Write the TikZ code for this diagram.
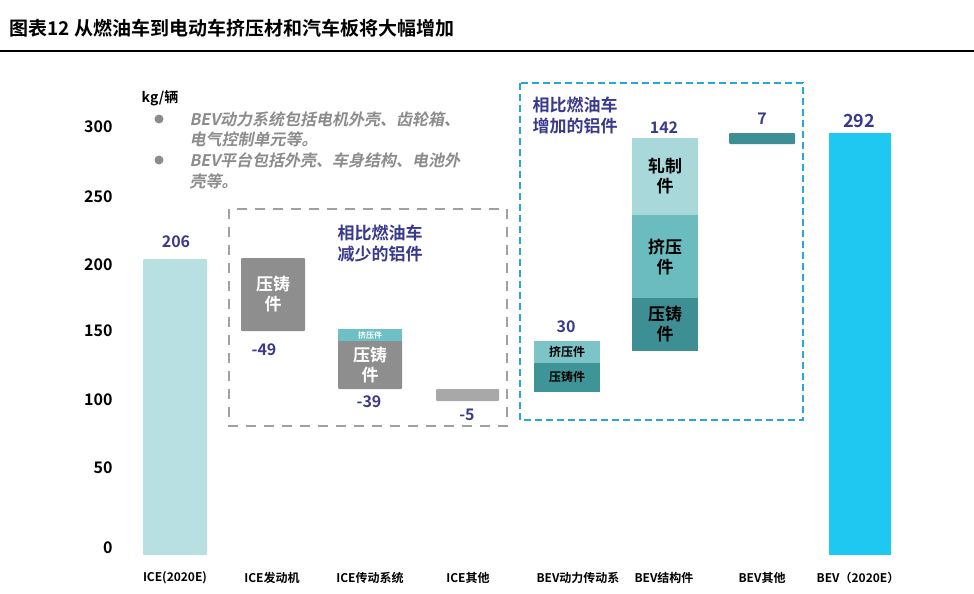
\documentclass[tikz,border=0pt]{standalone}
\usepackage{fontspec}
\setmainfont{Noto Sans CJK SC}[BoldFont={Noto Sans CJK SC Bold}]
\newfontfamily\slfont{Noto Sans CJK SC}[FakeSlant=0.2,BoldFont={Noto Sans CJK SC Bold},BoldFeatures={FakeSlant=0.2}]
\definecolor{dblue}{HTML}{3A3A8C}
\definecolor{gtxt}{HTML}{8C8C8C}
\definecolor{iceb}{RGB}{184,224,226}
\definecolor{gbar}{RGB}{142,142,142}
\definecolor{gbar2}{RGB}{168,168,168}
\definecolor{tstrip}{RGB}{108,192,198}
\definecolor{tA}{RGB}{124,196,200}
\definecolor{tB}{RGB}{63,148,151}
\definecolor{tC}{RGB}{168,216,218}
\definecolor{tD}{RGB}{107,188,191}
\definecolor{tE}{RGB}{62,143,147}
\definecolor{bevb}{RGB}{30,200,240}
\definecolor{dbox}{RGB}{41,168,216}
\definecolor{gbox}{RGB}{160,160,160}
\begin{document}
\begin{tikzpicture}[x=1pt,y=-1pt,
  bar/.style={draw=none,rounded corners=1pt},
  num/.style={font=\bfseries\fontsize{16}{16}\selectfont,text=dblue},
  ax/.style={font=\bfseries\fontsize{16}{16}\selectfont,anchor=east},
  cat/.style={font=\bfseries\fontsize{12}{12}\selectfont},
  wl/.style={font=\bfseries\fontsize{17}{20}\selectfont,text=white,align=center},
  bl/.style={font=\bfseries\fontsize{17}{20}\selectfont,text=black,align=center},
  note/.style={font=\slfont\bfseries\fontsize{16}{17}\selectfont,text=gtxt,anchor=west}]
\useasboundingbox (0,0) rectangle (974,594);
\fill[white] (0,0) rectangle (974,594);
\node[anchor=west,font=\bfseries\fontsize{19}{19}\selectfont] (title) at (6,28) {图表12 从燃油车到电动车挤压材和汽车板将大幅增加};
\draw[line width=1.5pt] (0,51) -- (974,51);
% axis
\foreach \v/\y in {300/127,250/197,200/265,150/331,100/400,50/468,0/548}
  \node[ax] (a\v) at (116,\y) {\v};
\node[font=\bfseries\fontsize{14}{14}\selectfont] (unit) at (160,98) {kg/辆};
\node[note] (n1) at (186,119) {BEV动力系统包括电机外壳、齿轮箱、};
\node[note] (n2) at (186,139) {电气控制单元等。};
\node[note] (n3) at (186,160) {BEV平台包括外壳、车身结构、电池外};
\node[note] (n4) at (186,181) {壳等。};
\fill[gtxt] (159,119) circle (4.5);
\fill[gtxt] (159,160) circle (4.5);
% boxes
\draw[gbox,line width=2.5pt,dash pattern=on 10pt off 8pt] (229,209) rectangle (507,426);
\draw[dbox,line width=2.5pt,dash pattern=on 7pt off 4pt] (520,83) rectangle (803,420);
\node[font=\bfseries\fontsize{17}{21}\selectfont,text=dblue,align=left] (inc) at (575,115) {相比燃油车\\增加的铝件};
\node[font=\bfseries\fontsize{17}{21}\selectfont,text=dblue,align=left] (dec) at (380,243) {相比燃油车\\减少的铝件};
% bars
\fill[bar,iceb] (143,259) rectangle (207,555);
\node[num] (v206) at (176,242) {206};
\fill[bar,gbar] (241,258) rectangle (305,331);
\node[wl] (e1) at (273,294) {压铸\\件};
\node[num] (v49) at (264,350) {-49};
\fill[bar,gbar] (338,340) rectangle (402,389);
\fill[tstrip] (338,329) rectangle (402,341);
\node[font=\bfseries\fontsize{8}{8}\selectfont,text=white] (t1) at (370,335) {挤压件};
\node[wl] (t2) at (370,365) {压铸\\件};
\node[num] (v39) at (369,402) {-39};
\fill[bar,gbar2] (436,389) rectangle (499,401);
\node[num] (v5) at (467,415) {-5};
\fill[tA] (534,341) rectangle (600,364);
\fill[tB] (534,363) rectangle (600,392);
\node[font=\bfseries\fontsize{12}{12}\selectfont] (p1) at (567,352) {挤压件};
\node[font=\bfseries\fontsize{12}{12}\selectfont] (p2) at (567,377) {压铸件};
\node[num] (v30) at (566,327) {30};
\fill[tC] (632,138) rectangle (698,216);
\fill[tD] (632,215) rectangle (698,299);
\fill[tE] (632,298) rectangle (698,351);
\node[bl] (s1) at (665,176) {轧制\\件};
\node[bl] (s2) at (665,257) {挤压\\件};
\node[bl] (s3) at (665,324) {压铸\\件};
\node[num] (v142) at (664,128) {142};
\fill[bar,tE] (729,133) rectangle (795,144);
\node[num] (v7) at (762,119) {7};
\fill[bevb] (829,133) rectangle (891,555);
\node[num,font=\bfseries\fontsize{18}{18}\selectfont] (v292) at (859,121) {292};
% categories
\foreach \x/\t [count=\i] in {175/ICE(2020E),272/ICE发动机,370/ICE传动系统,468/ICE其他,578/BEV动力传动系,664/BEV结构件,762/BEV其他,858/BEV（2020E）}
  \node[cat] (c\i) at (\x,578) {\t};
\end{tikzpicture}
\end{document}
